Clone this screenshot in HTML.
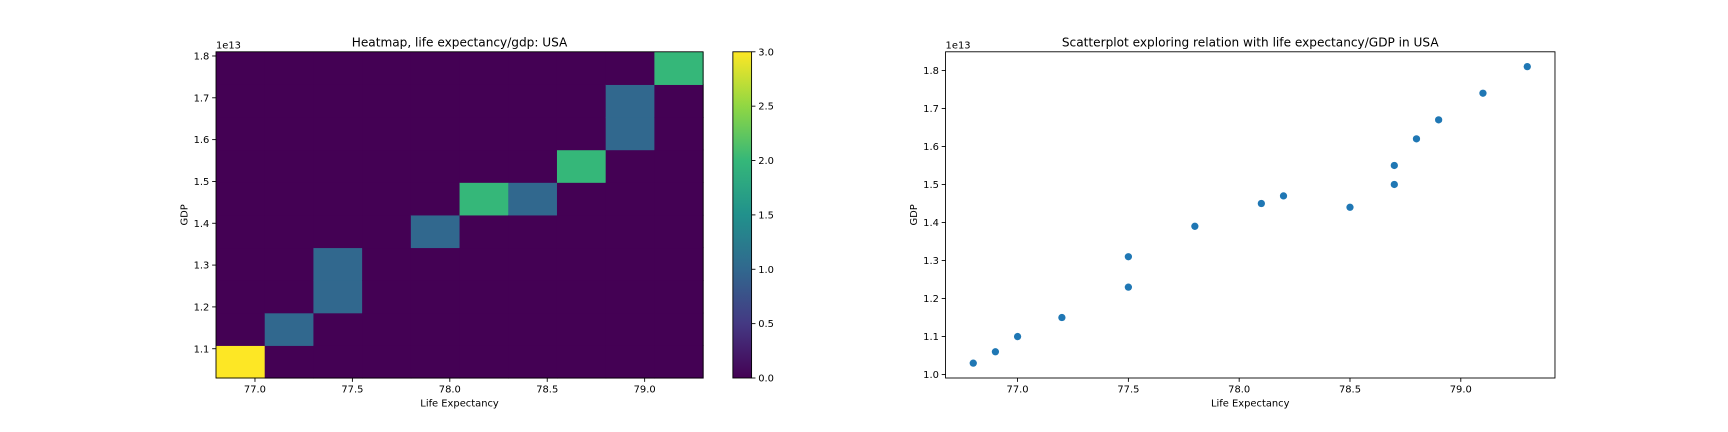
<!DOCTYPE html>
<html><head><meta charset="utf-8"><style>
html,body{margin:0;padding:0;background:#fff;}
svg{display:block;font-family:"DejaVu Sans","Liberation Sans",sans-serif;}
</style></head><body>
<svg id="chart" width="1728" height="432" viewBox="0 0 1728 432">
<defs>
<linearGradient id="viridis" x1="0" y1="1" x2="0" y2="0">
<stop offset="0" stop-color="#440154"/><stop offset="0.1667" stop-color="#443983"/><stop offset="0.3333" stop-color="#31688e"/><stop offset="0.5" stop-color="#21918c"/><stop offset="0.6667" stop-color="#35b779"/><stop offset="0.8333" stop-color="#90d743"/><stop offset="1" stop-color="#fde725"/>
</linearGradient>
</defs>
<g transform="scale(1.10204)">
<g id="heat"></g>
<g id="scat"></g>
</g>
</svg>
<script>
const lifeExpectancy=[76.8,76.9,77.0,77.2,77.5,77.5,77.8,78.1,78.2,78.5,78.7,78.7,78.8,78.9,79.1,79.3];
const gdpE13=[1.03,1.06,1.10,1.15,1.23,1.31,1.39,1.45,1.47,1.44,1.50,1.55,1.62,1.67,1.74,1.81];
const xTickLabels=["77.0","77.5","78.0","78.5","79.0"];
const yTickLabelsHeat=["1.1","1.2","1.3","1.4","1.5","1.6","1.7","1.8"];
const yTickLabelsScatter=["1.0","1.1","1.2","1.3","1.4","1.5","1.6","1.7","1.8"];
const cbTickLabels=["0.0","0.5","1.0","1.5","2.0","2.5","3.0"];

const NS="http://www.w3.org/2000/svg";
function mk(parent,tag,attrs,text){const e=document.createElementNS(NS,tag);for(const k in attrs)e.setAttribute(k,attrs[k]);if(text!==undefined)e.textContent=text;parent.appendChild(e);return e;}
function viridis(t){const c=[[68,1,84],[68,57,131],[49,104,142],[33,145,140],[53,183,121],[144,215,67],[253,231,37]];
 const p=Math.max(0,Math.min(1,t))*(c.length-1);const i=Math.min(Math.floor(p+1e-9),c.length-2);const f=Math.max(0,p-i);
 const r=c[i].map((v,k)=>Math.round(v+(c[i+1][k]-v)*f));return `rgb(${r[0]},${r[1]},${r[2]})`;}

const xmin=Math.min(...lifeExpectancy),xmax=Math.max(...lifeExpectancy);
const ymin=Math.min(...gdpE13),ymax=Math.max(...gdpE13);
const NB=10;
const counts=[];for(let i=0;i<NB;i++){counts.push(new Array(NB).fill(0));}
lifeExpectancy.forEach((x,k)=>{
 let bx=Math.floor((x-xmin)/(xmax-xmin)*NB+1e-9);let by=Math.floor((gdpE13[k]-ymin)/(ymax-ymin)*NB+1e-9);
 bx=Math.min(bx,NB-1);by=Math.min(by,NB-1);counts[bx][by]++;});
const cmax=Math.max(...counts.flat());

const H=document.getElementById('heat');
const hL=196,hR=638,hT=47,hB=343;
const hx=v=>hL+(v-xmin)/(xmax-xmin)*(hR-hL);
const hy=v=>hB-(v-ymin)/(ymax-ymin)*(hB-hT);
const cw=(xmax-xmin)/NB,ch=(ymax-ymin)/NB;
for(let i=0;i<NB;i++)for(let j=0;j<NB;j++){
 const r=mk(H,'rect',{x:hx(xmin+i*cw),y:hy(ymin+(j+1)*ch),width:hx(xmin+(i+1)*cw)-hx(xmin+i*cw)+0.5,height:hy(ymin+j*ch)-hy(ymin+(j+1)*ch)+0.5,fill:viridis(counts[i][j]/cmax)});
 
 
}
mk(H,'rect',{x:hL,y:hT,width:hR-hL,height:hB-hT,fill:'none',stroke:'#000','stroke-width':0.8});
xTickLabels.forEach(t=>{const x=hx(parseFloat(t));mk(H,'line',{x1:x,x2:x,y1:hB,y2:hB+3.5,stroke:'#000','stroke-width':0.8});
 const e=mk(H,'text',{x:x,y:hB+13,'font-size':9,'text-anchor':'middle',fill:'#000'},t);});
yTickLabelsHeat.forEach(t=>{const y=hy(parseFloat(t));mk(H,'line',{x1:hL-3.5,x2:hL,y1:y,y2:y,stroke:'#000','stroke-width':0.8});
 const e=mk(H,'text',{x:hL-6,y:y+3.2,'font-size':9,'text-anchor':'end',fill:'#000'},t);});
let e;
e=mk(H,'text',{x:hL,y:hT-3,'font-size':9,fill:'#000'},'1e13');
e=mk(H,'text',{x:(hL+hR)/2,y:hT-5,'font-size':11,'text-anchor':'middle',fill:'#000'},'Heatmap, life expectancy/gdp: USA');
e=mk(H,'text',{x:(hL+hR)/2,y:hB+26,'font-size':9,'text-anchor':'middle',fill:'#000'},'Life Expectancy');
e=mk(H,'text',{x:0,y:0,'font-size':9,'text-anchor':'middle',fill:'#000',transform:`translate(170,${(hT+hB)/2}) rotate(-90)`},'GDP');
const cL=665,cR=682;
e=mk(H,'rect',{x:cL,y:hT,width:cR-cL,height:hB-hT,fill:'url(#viridis)',stroke:'#000','stroke-width':0.8});
cbTickLabels.forEach(t=>{const y=hB-parseFloat(t)/cmax*(hB-hT);mk(H,'line',{x1:cR,x2:cR+3.5,y1:y,y2:y,stroke:'#000','stroke-width':0.8});
 const e2=mk(H,'text',{x:cR+6,y:y+3.2,'font-size':9,fill:'#000'},t);});

const S=document.getElementById('scat');
const sL=858,sR=1411,sT=47,sB=343;
const sx0=xmin-0.125,sx1=xmax+0.125,sy0=ymin-0.039,sy1=ymax+0.039;
const sx=v=>sL+(v-sx0)/(sx1-sx0)*(sR-sL);
const sy=v=>sB-(v-sy0)/(sy1-sy0)*(sB-sT);
mk(S,'rect',{x:sL,y:sT,width:sR-sL,height:sB-sT,fill:'none',stroke:'#000','stroke-width':0.8});
xTickLabels.forEach(t=>{const x=sx(parseFloat(t));mk(S,'line',{x1:x,x2:x,y1:sB,y2:sB+3.5,stroke:'#000','stroke-width':0.8});
 const e2=mk(S,'text',{x:x,y:sB+13,'font-size':9,'text-anchor':'middle',fill:'#000'},t);});
yTickLabelsScatter.forEach(t=>{const y=sy(parseFloat(t));mk(S,'line',{x1:sL-3.5,x2:sL,y1:y,y2:y,stroke:'#000','stroke-width':0.8});
 const e2=mk(S,'text',{x:sL-6,y:y+3.2,'font-size':9,'text-anchor':'end',fill:'#000'},t);});
lifeExpectancy.forEach((x,k)=>{const c=mk(S,'circle',{cx:sx(x),cy:sy(gdpE13[k]),r:3.3,fill:'#1f77b4'});
 
 });
e=mk(S,'text',{x:sL,y:sT-3,'font-size':9,fill:'#000'},'1e13');
e=mk(S,'text',{x:(sL+sR)/2,y:sT-5,'font-size':11,'text-anchor':'middle',fill:'#000'},'Scatterplot exploring relation with life expectancy/GDP in USA');
e=mk(S,'text',{x:(sL+sR)/2,y:sB+26,'font-size':9,'text-anchor':'middle',fill:'#000'},'Life Expectancy');
e=mk(S,'text',{x:0,y:0,'font-size':9,'text-anchor':'middle',fill:'#000',transform:`translate(832,${(sT+sB)/2}) rotate(-90)`},'GDP');
</script>
</body></html>
